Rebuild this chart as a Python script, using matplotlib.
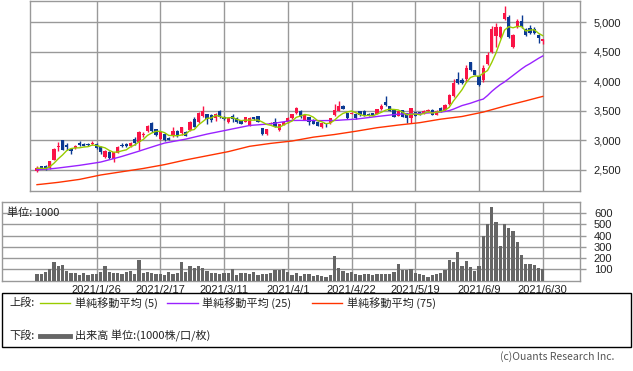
import matplotlib
matplotlib.use("Agg")
import matplotlib.pyplot as plt
from matplotlib.lines import Line2D
from matplotlib.patches import Rectangle
import numpy as np
import pandas as pd

# ---------------- data ----------------
holidays = ["2021-01-11", "2021-02-11", "2021-02-23", "2021-04-29",
            "2021-05-03", "2021-05-04", "2021-05-05"]
dates = [d for d in pd.bdate_range("2021-01-05", "2021-06-30")
         if d.strftime("%Y-%m-%d") not in holidays]

opens = [2490, 2560, 2570, 2535, 2675, 2890, 3000, 2925, 2855, 2870,
         2955, 2945, 2945, 2935, 2935, 2890, 2720, 2810, 2680, 2790,
         2925, 2940, 2905, 3020, 2965, 3100, 3165, 3300, 3190, 3030,
         3110, 3040, 3070, 3160, 3125, 3150, 3170, 3370, 3310, 3420,
         3440, 3435, 3375, 3490, 3400, 3320, 3405, 3375, 3340, 3320,
         3265, 3390, 3405, 3210, 3110, 3280, 3320, 3170, 3265, 3305,
         3375, 3460, 3500, 3350, 3395, 3350, 3320, 3225, 3290, 3295,
         3435, 3500, 3575, 3460, 3455, 3450, 3490, 3500, 3450, 3460,
         3450, 3530, 3645, 3585, 3520, 3420, 3510, 3465, 3380, 3475,
         3475, 3455, 3490, 3520, 3435, 3545, 3520, 3620, 3760, 4045,
         4030, 4040, 4325, 4195, 4095, 4025, 4290, 4505, 4760, 4745,
         5050, 5095, 4575, 4925, 5030, 4880, 4900, 4880, 4785, 4690]
highs = [2570, 2575, 2590, 2650, 2870, 2965, 3010, 2955, 2860, 2930,
         2985, 2955, 2960, 2995, 2950, 2900, 2830, 2820, 2810, 2900,
         2950, 2950, 2970, 3055, 3160, 3150, 3260, 3320, 3200, 3160,
         3120, 3050, 3220, 3170, 3230, 3160, 3330, 3400, 3480, 3585,
         3450, 3450, 3460, 3510, 3420, 3390, 3450, 3390, 3350, 3400,
         3400, 3400, 3420, 3215, 3200, 3310, 3380, 3285, 3320, 3390,
         3450, 3565, 3510, 3440, 3400, 3360, 3330, 3300, 3300, 3385,
         3620, 3675, 3600, 3470, 3475, 3460, 3500, 3510, 3460, 3470,
         3540, 3620, 3760, 3590, 3530, 3495, 3520, 3470, 3550, 3480,
         3480, 3510, 3530, 3530, 3510, 3560, 3610, 3790, 4040, 4150,
         4060, 4280, 4335, 4200, 4100, 4280, 4505, 4940, 4985, 4940,
         5275, 5120, 4800, 5050, 5125, 4910, 4960, 4920, 4800, 4720]
lows = [2460, 2510, 2505, 2520, 2660, 2815, 2830, 2845, 2775, 2860,
        2900, 2900, 2900, 2920, 2860, 2770, 2700, 2690, 2640, 2780,
        2885, 2890, 2895, 2925, 2840, 3055, 3150, 3150, 3080, 3010,
        2990, 3000, 3050, 3050, 3100, 3070, 3160, 3220, 3300, 3400,
        3280, 3320, 3330, 3380, 3340, 3300, 3320, 3300, 3270, 3310,
        3250, 3350, 3310, 3100, 3100, 3270, 3220, 3160, 3255, 3295,
        3370, 3455, 3380, 3340, 3265, 3270, 3240, 3215, 3230, 3285,
        3420, 3490, 3530, 3370, 3440, 3370, 3420, 3410, 3410, 3410,
        3440, 3520, 3580, 3500, 3390, 3410, 3390, 3290, 3300, 3410,
        3430, 3440, 3480, 3430, 3425, 3480, 3500, 3600, 3740, 3950,
        3950, 3995, 4180, 4100, 3920, 3995, 4280, 4475, 4590, 4730,
        5040, 4730, 4560, 4900, 4900, 4760, 4810, 4800, 4655, 4630]
closes = [2530, 2525, 2515, 2645, 2855, 2905, 2845, 2890, 2815, 2910,
          2915, 2910, 2920, 2955, 2870, 2810, 2820, 2700, 2800, 2890,
          2910, 2900, 2960, 2955, 3150, 3110, 3250, 3165, 3095, 3150,
          3000, 3010, 3160, 3070, 3220, 3080, 3320, 3230, 3465, 3500,
          3360, 3340, 3450, 3395, 3355, 3375, 3360, 3305, 3280, 3395,
          3375, 3360, 3320, 3110, 3195, 3295, 3225, 3280, 3310, 3375,
          3445, 3545, 3395, 3435, 3320, 3280, 3250, 3295, 3270, 3375,
          3520, 3585, 3540, 3380, 3465, 3380, 3435, 3420, 3420, 3420,
          3530, 3585, 3600, 3505, 3400, 3490, 3400, 3380, 3545, 3420,
          3435, 3500, 3520, 3435, 3500, 3495, 3605, 3770, 3980, 3970,
          3965, 4220, 4195, 4110, 3940, 4220, 4450, 4880, 4915, 4925,
          5165, 4745, 4785, 5030, 4915, 4785, 4825, 4815, 4730, 4715]

ma25 = [2504, 2508, 2512, 2518, 2525, 2533, 2542, 2551, 2560, 2569,
        2578, 2589, 2600, 2611, 2622, 2634, 2653, 2672, 2691, 2710,
        2730, 2752, 2774, 2796, 2818, 2842, 2865, 2888, 2911, 2933,
        2955, 2968, 2982, 2995, 3008, 3022, 3039, 3056, 3073, 3090,
        3107, 3122, 3136, 3151, 3165, 3180, 3195, 3209, 3224, 3238,
        3253, 3259, 3264, 3270, 3275, 3281, 3292, 3304, 3315, 3327,
        3338, 3338, 3339, 3338, 3337, 3338, 3336, 3335, 3336, 3337,
        3338, 3342, 3347, 3351, 3356, 3360, 3369, 3378, 3387, 3396,
        3405, 3413, 3421, 3429, 3437, 3445, 3447, 3449, 3451, 3453,
        3455, 3460, 3465, 3470, 3475, 3480, 3490, 3505, 3530, 3560,
        3590, 3610, 3630, 3655, 3680, 3700, 3760, 3830, 3890, 3945,
        3990, 4045, 4100, 4155, 4210, 4260, 4300, 4345, 4390, 4430]
ma75 = [2251, 2258, 2266, 2274, 2282, 2290, 2300, 2310, 2320, 2330,
        2340, 2355, 2370, 2385, 2400, 2415, 2426, 2437, 2448, 2459,
        2470, 2481, 2492, 2503, 2514, 2525, 2538, 2551, 2564, 2577,
        2590, 2606, 2622, 2638, 2654, 2670, 2684, 2698, 2712, 2726,
        2740, 2754, 2768, 2782, 2796, 2810, 2828, 2846, 2864, 2882,
        2900, 2910, 2920, 2930, 2940, 2950, 2958, 2966, 2974, 2982,
        2990, 3003, 3016, 3029, 3042, 3055, 3064, 3073, 3082, 3091,
        3100, 3111, 3122, 3133, 3144, 3155, 3167, 3179, 3191, 3203,
        3215, 3224, 3233, 3242, 3251, 3260, 3268, 3276, 3284, 3292,
        3300, 3312, 3324, 3336, 3348, 3360, 3369, 3378, 3387, 3396,
        3405, 3420, 3435, 3450, 3465, 3480, 3500, 3520, 3540, 3560,
        3580, 3598, 3616, 3634, 3652, 3670, 3689, 3708, 3727, 3745]

volume = [60, 55, 75, 100, 165, 125, 140, 85, 70, 70,
          50, 65, 45, 60, 60, 80, 130, 80, 70, 65,
          55, 75, 85, 60, 185, 70, 80, 70, 60, 55,
          50, 75, 60, 70, 165, 80, 130, 115, 130, 110,
          85, 70, 70, 60, 70, 70, 100, 50, 70, 65,
          60, 80, 45, 60, 55, 65, 90, 90, 100, 75,
          50, 70, 40, 60, 60, 40, 50, 40, 35, 45,
          220, 110, 85, 65, 80, 55, 50, 55, 55, 50,
          60, 55, 60, 60, 75, 145, 95, 95, 100, 65,
          55, 45, 35, 45, 55, 70, 90, 185, 165, 255,
          130, 175, 120, 85, 130, 400, 500, 660, 520, 310,
          500, 465, 440, 340, 230, 150, 150, 140, 115, 105]

tick_dates = ["2021-01-26", "2021-02-17", "2021-03-11", "2021-04-01",
              "2021-04-22", "2021-05-19", "2021-06-09", "2021-06-30"]
price_ticks = [2500, 3000, 3500, 4000, 4500, 5000]
vol_ticks = [100, 200, 300, 400, 500, 600]
legend_labels = ["単純移動平均 (5)", "単純移動平均 (25)", "単純移動平均 (75)"]

# ---------------- styling ----------------
UP = "#fa1446"
DOWN = "#0b3a93"
C5 = "#99cc00"
C25 = "#9922ff"
C75 = "#ff3300"
GRID = "#999999"
TXT = "#222222"
JP = ["Noto Sans CJK JP", "DejaVu Sans"]
NUM = ["Liberation Sans", "DejaVu Sans"]

W, H = 633, 371
fig = plt.figure(figsize=(W / 100, H / 100), dpi=100)


def rect(x0, y0, x1, y1):
    return [x0 / W, 1 - y1 / H, (x1 - x0) / W, (y1 - y0) / H]


n = len(closes)
x = np.arange(n)
date_str = [d.strftime("%Y-%m-%d") for d in dates]
tick_pos = [date_str.index(t) for t in tick_dates]
tick_lab = [f"{pd.Timestamp(t).year}/{pd.Timestamp(t).month}/{pd.Timestamp(t).day}" for t in tick_dates]

o = np.array(opens, float)
c = np.array(closes, float)
h = np.array(highs, float)
l = np.array(lows, float)
ma5 = pd.Series(c).rolling(5, min_periods=1).mean().values

# ---- price panel ----
ax1 = fig.add_axes(rect(30, 0.5, 580, 190.5))
ax1.set_xlim(-1.647, 127.76)
ax1.set_ylim(2152, 5369)
for v in price_ticks:
    ax1.axhline(v, color=GRID, lw=1, zorder=0)
for p in tick_pos:
    ax1.axvline(p, color=GRID, lw=1, zorder=0)

up = c >= o
cols = np.where(up, UP, DOWN)
ax1.vlines(x, l, h, colors=cols, lw=1, zorder=2)
body_bot = np.minimum(o, c)
body_h = np.maximum(np.abs(c - o), 12)
ax1.bar(x, body_h, bottom=body_bot, width=0.72, color=cols, lw=0, zorder=3)

ax1.plot(x, ma75, color=C75, lw=1.0, zorder=4)
ax1.plot(x, ma25, color=C25, lw=1.0, zorder=4)
ax1.plot(x, ma5, color=C5, lw=1.0, zorder=5)

ax1.yaxis.tick_right()
ax1.set_yticks(price_ticks)
ax1.set_yticklabels([f"{v:,}" for v in price_ticks], fontsize=8, family=NUM, color=TXT)
ax1.set_xticks([])
ax1.tick_params(axis="y", length=4, width=1, color=GRID, pad=6)
for s in ax1.spines.values():
    s.set_color(GRID)
    s.set_linewidth(1)

# ---- volume panel ----
ax2 = fig.add_axes(rect(2, 201.7, 580, 280.5))
ax2.set_xlim(-8.235, 127.76)
ax2.set_ylim(0, 703)
for v in vol_ticks:
    ax2.axhline(v, color=GRID, lw=1, zorder=0)
for p in tick_pos:
    ax2.axvline(p, color=GRID, lw=1, zorder=0)
ax2.bar(x, volume, width=0.72, color="#666666", lw=0, zorder=3)
ax2.yaxis.tick_right()
ax2.set_yticks(vol_ticks)
ax2.set_yticklabels([str(v) for v in vol_ticks], fontsize=8, family=NUM, color=TXT)
ax2.set_xticks(tick_pos)
ax2.set_xticklabels(tick_lab, fontsize=8, family=NUM, color=TXT)
ax2.tick_params(axis="y", length=4, width=1, color=GRID, pad=6)
ax2.tick_params(axis="x", length=0, pad=3)
for s in ax2.spines.values():
    s.set_color(GRID)
    s.set_linewidth(1)
ax2.text(0.008, 0.93, "単位: 1000", transform=ax2.transAxes, ha="left", va="top",
         fontsize=8, family=JP, color=TXT)

# ---- legend box ----
fig.patches.append(Rectangle((2 / W, 1 - 347 / H), 629 / W, 54 / H, transform=fig.transFigure,
                             fill=False, ec="#000000", lw=1))


def fx(px):
    return px / W


def fy(py):
    return 1 - py / H


row1, row2 = 303, 336
fig.text(fx(9), fy(row1), "上段:", fontsize=8, family=JP, va="center", color=TXT)
line_x = [(40, 70), (167, 198), (312, 342)]
text_x = [75, 202, 347]
for (a, b), tx, col, lab in zip(line_x, text_x, [C5, C25, C75], legend_labels):
    fig.add_artist(Line2D([fx(a), fx(b)], [fy(row1), fy(row1)], color=col, lw=1,
                          transform=fig.transFigure))
    fig.text(fx(tx), fy(row1), lab, fontsize=8, family=JP, va="center", color=TXT)
fig.text(fx(9), fy(row2), "下段:", fontsize=8, family=JP, va="center", color=TXT)
fig.add_artist(Line2D([fx(40), fx(70)], [fy(row2), fy(row2)], color="#666666", lw=3.5,
                      transform=fig.transFigure))
fig.text(fx(75), fy(row2), "出来高 単位:(1000株/口/枚)", fontsize=8, family=JP, va="center", color=TXT)

fig.text(fx(614), fy(357), "(c)Ouants Research Inc.", fontsize=7.5, family=JP, ha="right",
         va="center", color="#555555")

fig.savefig("out.png", dpi=100)
